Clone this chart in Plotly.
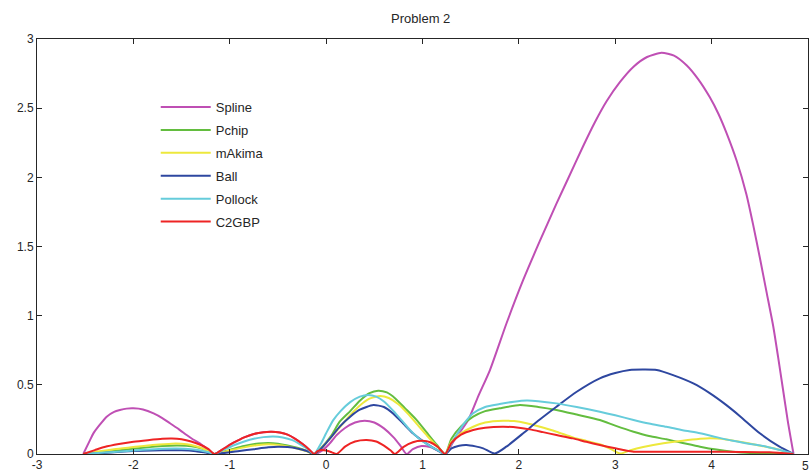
import plotly.graph_objects as go

# ---- data ----
spline_x = [-2.52, -2.45, -2.415, -2.35, -2.277, -2.2, -2.14, -2.07, -2.0, -1.9, -1.79, -1.7, -1.62, -1.53, -1.447, -1.38, -1.31, -1.24, -1.16,
            -1.05, -0.95, -0.85, -0.75, -0.65, -0.565, -0.48, -0.4, -0.32, -0.24, -0.18, -0.125,
            -0.05, 0.03, 0.11, 0.2, 0.3, 0.4, 0.5, 0.6, 0.7, 0.77, 0.835, 0.9, 0.99, 1.08, 1.16, 1.235,
            1.33, 1.474, 1.58, 1.70, 1.872, 2.045, 2.218, 2.39, 2.51, 2.67, 2.79, 2.91, 3.05, 3.19, 3.33, 3.48, 3.61, 3.74, 3.86, 3.98,
            4.07, 4.155, 4.26, 4.36, 4.43, 4.50, 4.57, 4.64, 4.69, 4.74, 4.79, 4.85]
spline_y = [0, 0.10, 0.149, 0.21, 0.27, 0.305, 0.318, 0.328, 0.33, 0.322, 0.294, 0.26, 0.222, 0.18, 0.137, 0.105, 0.077, 0.04, 0,
            0.045, 0.085, 0.12, 0.145, 0.158, 0.161, 0.155, 0.14, 0.11, 0.07, 0.035, 0,
            0.02, 0.07, 0.137, 0.19, 0.228, 0.241, 0.228, 0.185, 0.12, 0.06, 0, 0.035, 0.058, 0.05, 0.025, 0,
            0.10, 0.245, 0.42, 0.607, 0.945, 1.258, 1.54, 1.81, 1.99, 2.23, 2.40, 2.55, 2.69, 2.80, 2.87, 2.90, 2.88, 2.81, 2.71, 2.58,
            2.46, 2.32, 2.12, 1.88, 1.66, 1.42, 1.17, 0.92, 0.70, 0.47, 0.24, 0]

pchip_x = [-2.52, -2.3, -2.1, -1.9, -1.7, -1.55, -1.45, -1.35, -1.25, -1.16,
           -1.0, -0.85, -0.7, -0.6, -0.5, -0.4, -0.3, -0.2, -0.125,
           -0.05, 0.05, 0.143, 0.25, 0.35, 0.45, 0.54, 0.63, 0.72, 0.82, 0.94, 1.05, 1.15, 1.235,
           1.3, 1.4, 1.526, 1.65, 1.80, 2.01, 2.2, 2.39, 2.6, 2.84, 3.0, 3.19, 3.35, 3.53, 3.7, 3.88, 4.05, 4.22, 4.4, 4.6, 4.85]
pchip_y = [0, 0.015, 0.03, 0.045, 0.058, 0.062, 0.06, 0.05, 0.03, 0,
           0.03, 0.058, 0.076, 0.08, 0.075, 0.062, 0.045, 0.022, 0,
           0.045, 0.13, 0.235, 0.31, 0.385, 0.44, 0.458, 0.445, 0.4, 0.33, 0.245, 0.15, 0.065, 0,
           0.11, 0.2, 0.27, 0.31, 0.33, 0.354, 0.34, 0.318, 0.285, 0.246, 0.205, 0.161, 0.13, 0.106, 0.08, 0.053, 0.032, 0.017, 0.008, 0.004, 0]

makima_x = [-2.52, -2.35, -2.2, -2.0, -1.8, -1.6, -1.5, -1.4, -1.3, -1.22, -1.16,
            -1.0, -0.85, -0.7, -0.6, -0.5, -0.4, -0.3, -0.2, -0.125,
            -0.05, 0.05, 0.15, 0.25, 0.35, 0.45, 0.56, 0.65, 0.75, 0.85, 0.95, 1.05, 1.15, 1.235,
            1.3, 1.4, 1.526, 1.65, 1.84, 1.95, 2.08, 2.2, 2.39, 2.56, 2.7, 2.84, 2.95, 3.05, 3.15, 3.29, 3.5, 3.7, 3.98, 4.15, 4.29, 4.47, 4.64, 4.75, 4.85]
makima_y = [0, 0.02, 0.035, 0.05, 0.065, 0.075, 0.074, 0.065, 0.045, 0.02, 0,
            0.025, 0.048, 0.065, 0.07, 0.066, 0.055, 0.04, 0.02, 0,
            0.04, 0.12, 0.2, 0.28, 0.35, 0.4, 0.419, 0.405, 0.36, 0.29, 0.21, 0.13, 0.055, 0,
            0.09, 0.15, 0.197, 0.228, 0.241, 0.238, 0.222, 0.2, 0.161, 0.12, 0.095, 0.07, 0.038, 0.003, 0.025, 0.05, 0.078, 0.096, 0.113, 0.105, 0.089, 0.065, 0.041, 0.02, 0]

ball_x = [-2.52, -2.3, -2.1, -1.9, -1.7, -1.5, -1.35, -1.25, -1.16,
          -1.0, -0.9, -0.75, -0.6, -0.5, -0.4, -0.3, -0.2, -0.125,
          -0.05, 0.05, 0.143, 0.25, 0.35, 0.49, 0.6, 0.7, 0.8, 0.9, 1.0, 1.1, 1.235,
          1.3, 1.38, 1.457, 1.55, 1.63, 1.75, 1.87, 2.045, 2.2, 2.39, 2.6, 2.84, 3.0, 3.15, 3.3, 3.43, 3.6, 3.81, 3.98, 4.15, 4.3, 4.5, 4.7, 4.85]
ball_y = [0, 0.008, 0.018, 0.024, 0.027, 0.027, 0.02, 0.01, 0,
          0.012, 0.022, 0.035, 0.048, 0.053, 0.05, 0.04, 0.022, 0,
          0.04, 0.12, 0.2, 0.27, 0.32, 0.354, 0.34, 0.29, 0.22, 0.15, 0.095, 0.05, 0,
          0.04, 0.06, 0.065, 0.055, 0.041, 0.003, 0.053, 0.15, 0.24, 0.342, 0.45, 0.547, 0.585, 0.607, 0.61, 0.607, 0.57, 0.51, 0.44, 0.355, 0.27, 0.15, 0.055, 0]

pollock_x = [-2.52, -2.3, -2.1, -1.9, -1.7, -1.55, -1.4, -1.3, -1.22, -1.16,
             -1.05, -0.95, -0.85, -0.75, -0.65, -0.55, -0.45, -0.35, -0.27, -0.2, -0.125,
             -0.05, 0.0, 0.074, 0.15, 0.25, 0.35, 0.437, 0.52, 0.6, 0.7, 0.8, 0.87, 0.95, 1.05, 1.15, 1.235,
             1.32, 1.42, 1.526, 1.65, 1.80, 1.95, 2.08, 2.2, 2.39, 2.6, 2.84, 3.0, 3.19, 3.35, 3.53, 3.7, 3.88, 4.05, 4.22, 4.4, 4.57, 4.72, 4.85]
pollock_y = [0, 0.01, 0.02, 0.03, 0.038, 0.04, 0.035, 0.025, 0.012, 0,
             0.035, 0.065, 0.09, 0.11, 0.122, 0.127, 0.12, 0.1, 0.07, 0.04, 0,
             0.08, 0.15, 0.245, 0.31, 0.375, 0.415, 0.427, 0.415, 0.38, 0.31, 0.23, 0.174, 0.12, 0.07, 0.03, 0,
             0.1, 0.21, 0.294, 0.34, 0.361, 0.378, 0.386, 0.382, 0.366, 0.34, 0.306, 0.28, 0.246, 0.22, 0.197, 0.172, 0.15, 0.122, 0.096, 0.073, 0.053, 0.027, 0]

c2gbp_x = [-2.52, -2.4, -2.3, -2.15, -2.0, -1.85, -1.7, -1.6, -1.5, -1.4, -1.3, -1.22, -1.16,
           -1.05, -0.95, -0.85, -0.75, -0.65, -0.565, -0.48, -0.4, -0.32, -0.24, -0.18, -0.125,
           -0.09, -0.047, 0.0, 0.06, 0.109, 0.2, 0.3, 0.42, 0.52, 0.6, 0.67, 0.714, 0.8, 0.9, 1.0, 1.08, 1.16, 1.235,
           1.3, 1.4, 1.526, 1.65, 1.84, 2.0, 2.115, 2.25, 2.39, 2.56, 2.7, 2.84, 3.0, 3.1, 3.19, 3.6, 4.0, 4.29, 4.6, 4.85]
c2gbp_y = [0, 0.028, 0.05, 0.072, 0.088, 0.1, 0.11, 0.112, 0.106, 0.09, 0.065, 0.035, 0,
           0.045, 0.085, 0.12, 0.145, 0.158, 0.161, 0.155, 0.14, 0.11, 0.07, 0.035, 0,
           0.02, 0.029, 0.025, 0.012, 0, 0.055, 0.09, 0.101, 0.09, 0.06, 0.025, 0, 0.05, 0.085, 0.095, 0.085, 0.05, 0,
           0.08, 0.14, 0.174, 0.19, 0.197, 0.19, 0.178, 0.158, 0.137, 0.113, 0.088, 0.065, 0.041, 0.027, 0.017, 0.016, 0.016, 0.015, 0.012, 0]

x_ticks = [-3, -2, -1, 0, 1, 2, 3, 4, 5]
x_tick_labels = ["-3", "-2", "-1", "0", "1", "2", "3", "4", ""]
x_last_label = "5"
y_ticks = [0, 0.5, 1, 1.5, 2, 2.5, 3]
y_tick_labels = ["0", "0.5", "1", "1.5", "2", "2.5", "3"]

series = [
    ("Spline", spline_x, spline_y, "#BF4FB4"),
    ("Pchip", pchip_x, pchip_y, "#63BD3F"),
    ("mAkima", makima_x, makima_y, "#EDE83C"),
    ("Ball", ball_x, ball_y, "#2E47A0"),
    ("Pollock", pollock_x, pollock_y, "#66CCDB"),
    ("C2GBP", c2gbp_x, c2gbp_y, "#EE2424"),
]

fig = go.Figure()
for i, (name, xs, ys, col) in enumerate(series):
    fig.add_trace(go.Scatter(x=xs, y=ys, mode="lines", name=name,
                             legendgroup=f"g{i}",
                             line=dict(color=col, width=2, shape="spline", smoothing=0.6)))

tick_font = dict(family="Liberation Sans, Arial", size=12, color="#262626")
axis_common = dict(showline=True, linecolor="#262626", linewidth=1, mirror="ticks",
                   ticks="inside", ticklen=5, tickcolor="#262626", showgrid=False,
                   zeroline=False, tickfont=tick_font)

# last x tick label sits at the right edge of the page
fig.add_annotation(x=x_ticks[-1], y=0, xref="x", yref="y", text=x_last_label,
                   showarrow=False, xanchor="right", yanchor="top", yshift=-3, xshift=3,
                   font=tick_font)

fig.update_layout(
    width=809, height=474,
    margin=dict(l=37, r=1, t=39, b=20),
    paper_bgcolor="white", plot_bgcolor="white",
    title=dict(text="Problem 2", x=0.52, xanchor="center", y=0.962, yanchor="middle",
               font=dict(family="Liberation Sans, Arial", size=13, color="#262626")),
    xaxis=dict(range=[-3, 5], tickvals=x_ticks, ticktext=x_tick_labels, **axis_common),
    yaxis=dict(range=[0, 3], tickvals=y_ticks, ticktext=y_tick_labels, **axis_common),
    legend=dict(x=0.154, y=0.872, xanchor="left", yanchor="top",
                bgcolor="rgba(0,0,0,0)", borderwidth=0,
                font=dict(family="Liberation Sans, Arial", size=13, color="#262626"),
                itemwidth=50, tracegroupgap=3, traceorder="grouped"),
    showlegend=True,
)

fig.write_html("out.html")
